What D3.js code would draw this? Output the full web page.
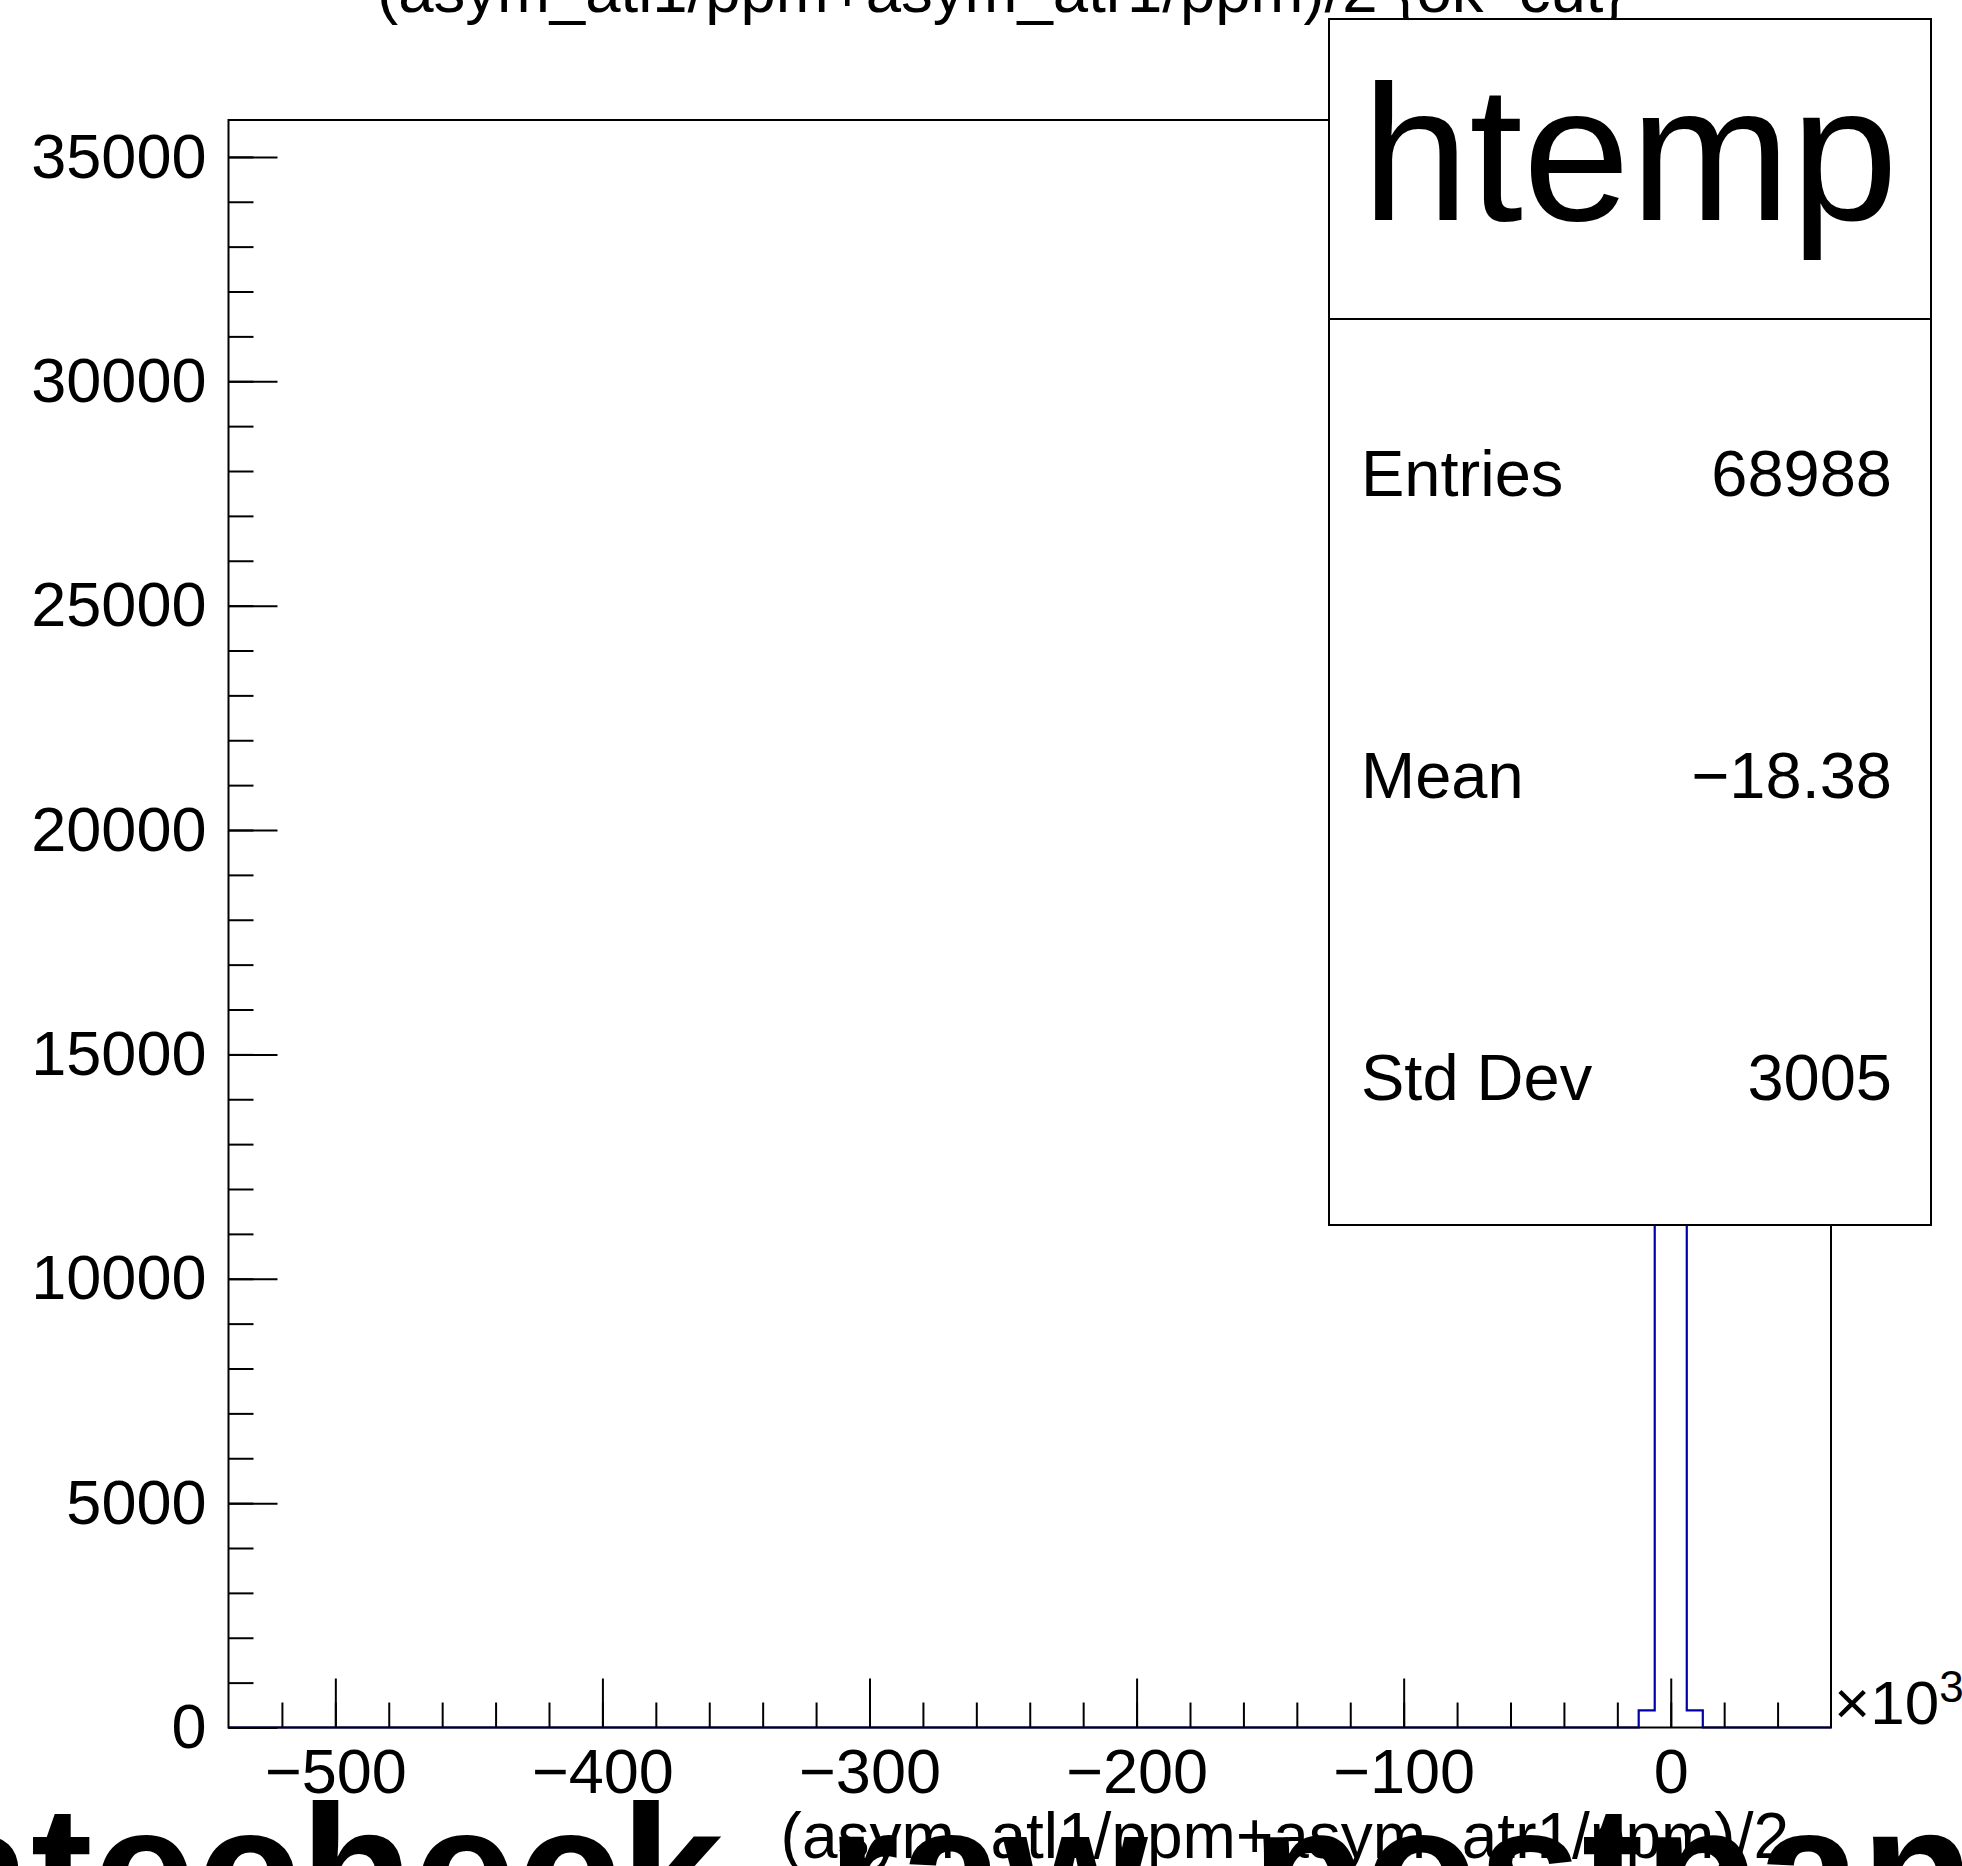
<!DOCTYPE html>
<html>
<head>
<meta charset="utf-8">
<script src="https://cdn.jsdelivr.net/npm/d3@7"></script>
<style>
  body { margin: 0; background: #fff; }
  svg { display: block; }
  text { font-family: "Liberation Sans", Arial, sans-serif; fill: #000; }
</style>
</head>
<body>
<div id="chart"></div>
<script>
// histogram, x in units of 10^3, 100 bins of width 6 from -540 to 60
var binLo = -540;
var binHi = 60;
var binWidth = 6;
// only non-empty bins listed: [low edge, count]
var binEdges = [-12, -6, 0, 6];
var binCounts = [380, 34116, 34112, 380];

var xTicks = [-500, -400, -300, -200, -100, 0];
var yTicks = [0, 5000, 10000, 15000, 20000, 25000, 30000, 35000];

var statLabels = ["Entries", "Mean", "Std Dev"];
var statValues = ["68988", "\u221218.38", "3005"];

var histName = "htemp";
var topTitle = "(asym_atl1/ppm+asym_atr1/ppm)/2 {ok_cut}";
var xTitle = "(asym_atl1/ppm+asym_atr1/ppm)/2";
var bigLabel = "ratecheck_raw_postpan";

var W = 1962, H = 1866;
var padL = 228.5, padR = 1831, padT = 120, padB = 1727.5;

var svg = d3.select("#chart").append("svg")
	.attr("width", W)
	.attr("height", H);

// build full bin list (zeros included) so the step outline spans the axis
var bins = [];
for (var e = binLo; e < binHi; e += binWidth) {
	var k = binEdges.indexOf(e);
	bins.push({x0: e, x1: e + binWidth, n: k >= 0 ? binCounts[k] : 0});
}

var x = d3.scaleLinear().domain([binLo, binHi]).range([padL, padR]);
var yMax = d3.max(binCounts) * 1.05;
var y = d3.scaleLinear().domain([0, yMax]).range([padB, padT]);

// step outline
var pts = [[bins[0].x0, 0]];
bins.forEach(function(b) {
	pts.push([b.x0, b.n]);
	pts.push([b.x1, b.n]);
});
pts.push([binHi, 0]);

svg.append("path")
	.attr("d", d3.line().x(function(d) { return x(d[0]); }).y(function(d) { return y(d[1]); })(pts))
	.attr("fill", "none")
	.attr("stroke", "#0000a8")
	.attr("stroke-width", 2.2);

// frame
svg.append("rect")
	.attr("x", padL).attr("y", padT)
	.attr("width", padR - padL).attr("height", padB - padT)
	.attr("fill", "none")
	.attr("stroke", "#000")
	.attr("stroke-width", 2);

var minus = function(d) { return d < 0 ? "\u2212" + Math.abs(d) : String(d); };

// y axis: major + minor ticks, pointing inward
var yMinor = d3.range(0, yMax, 1000);
svg.append("g")
	.attr("class", "yminor")
	.attr("transform", "translate(" + padL + ",0)")
	.call(d3.axisLeft(y).tickValues(yMinor).tickSize(-25).tickFormat(""));

svg.append("g")
	.attr("class", "ymajor")
	.attr("transform", "translate(" + padL + ",0)")
	.call(d3.axisLeft(y).tickValues(yTicks).tickSize(-49).tickPadding(22).tickFormat(d3.format("d")));

// x axis
var xMinor = d3.range(-520, binHi, 20);
svg.append("g")
	.attr("class", "xminor")
	.attr("transform", "translate(0," + padB + ")")
	.call(d3.axisBottom(x).tickValues(xMinor).tickSize(-25).tickFormat(""));

svg.append("g")
	.attr("class", "xmajor")
	.attr("transform", "translate(0," + padB + ")")
	.call(d3.axisBottom(x).tickValues(xTicks).tickSize(-49).tickPadding(21).tickFormat(minus));

svg.selectAll(".domain").remove();
svg.selectAll(".tick line").attr("stroke", "#000").attr("stroke-width", 2);
svg.selectAll(".ymajor text, .xmajor text")
	.style("font-family", "Liberation Sans, Arial, sans-serif")
	.style("font-size", "63px")
	.attr("fill", "#000");

// x10^3 multiplier
var mult = svg.append("text")
	.attr("x", 1834).attr("y", 1724)
	.style("font-size", "62px");
mult.append("tspan").text("\u00d710");
mult.append("tspan").attr("dy", -22).style("font-size", "44px").text("3");

// x axis title
svg.append("text")
	.attr("x", 1789).attr("y", 1858)
	.attr("text-anchor", "end")
	.style("font-size", "64px")
	.text(xTitle);

// top title (cut by the page edge)
svg.append("text")
	.attr("x", 377).attr("y", 12)
	.style("font-size", "63.5px")
	.text(topTitle);

// stats box
var sx = 1329, sy = 19, sw = 602, sh = 1206, sDiv = 319;
svg.append("rect")
	.attr("x", sx).attr("y", sy)
	.attr("width", sw).attr("height", sh)
	.attr("fill", "#fff")
	.attr("stroke", "#000")
	.attr("stroke-width", 2);
svg.append("line")
	.attr("x1", sx).attr("x2", sx + sw)
	.attr("y1", sDiv).attr("y2", sDiv)
	.attr("stroke", "#000")
	.attr("stroke-width", 2);
svg.append("text")
	.attr("x", sx + sw / 2).attr("y", 220)
	.attr("text-anchor", "middle")
	.style("font-size", "193px")
	.text(histName);

var rowH = (sy + sh - sDiv) / statLabels.length;
for (var i = 0; i < statLabels.length; i++) {
	var by = sDiv + rowH * (i + 0.5) + 26;
	svg.append("text")
		.attr("x", 1361).attr("y", by)
		.style("font-size", "65px")
		.text(statLabels[i]);
	svg.append("text")
		.attr("x", 1892).attr("y", by)
		.attr("text-anchor", "end")
		.style("font-size", "65px")
		.text(statValues[i]);
}

// large bold label running off the bottom of the page
svg.append("text")
	.attr("x", -145).attr("y", 1935)
	.style("font-size", "186px")
	.style("font-weight", "bold")
	.text(bigLabel);
</script>
</body>
</html>
